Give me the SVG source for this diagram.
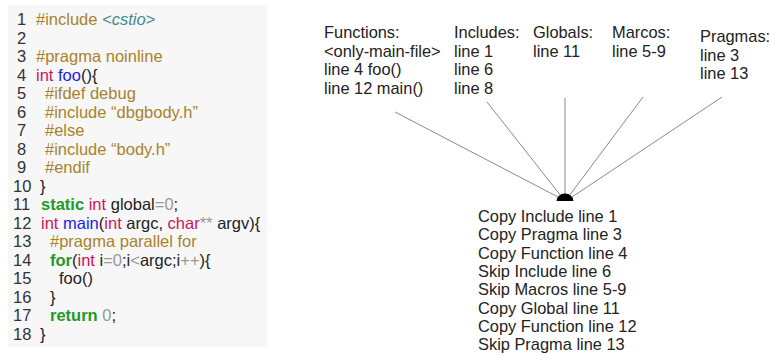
<svg xmlns="http://www.w3.org/2000/svg" width="770" height="356" viewBox="0 0 770 356">
<style>
  text { font-family: "Liberation Sans", Arial, sans-serif; }
  .code { font-size: 16.5px; fill: #222; }
  .num { fill: #333; }
  .pp { fill: #a8832c; }
  .hdr { fill: #3c8c8c; font-style: italic; }
  .kw { fill: #c8175a; }
  .fn { fill: #2020f0; }
  .ctl { fill: #1f9a2a; font-weight: bold; }
  .lit { fill: #9a9a9a; }
  .lbl { font-size: 16.4px; fill: #222; }
  .conn line { stroke: #8a8a8a; stroke-width: 1; }
</style>
<rect x="0" y="0" width="770" height="356" fill="#ffffff"/>

<g id="code">
  <rect x="8" y="5" width="259" height="342" fill="#f7f7f7"/>
  <g class="code">
    <text x="17" y="25" class="num">1</text>
    <text x="36" y="25"><tspan class="pp">#include </tspan><tspan class="hdr">&lt;cstio&gt;</tspan></text>
    <text x="17" y="43.5" class="num">2</text>
    <text x="17" y="62" class="num">3</text>
    <text x="36" y="62" class="pp">#pragma noinline</text>
    <text x="17" y="80.5" class="num">4</text>
    <text x="36" y="80.5"><tspan class="kw">int</tspan> <tspan class="fn">foo</tspan>(){</text>
    <text x="17" y="99" class="num">5</text>
    <text x="45" y="99" class="pp">#ifdef debug</text>
    <text x="17" y="117.5" class="num">6</text>
    <text x="45" y="117.5" class="pp">#include “dbgbody.h”</text>
    <text x="17" y="136" class="num">7</text>
    <text x="45" y="136" class="pp">#else</text>
    <text x="17" y="154.5" class="num">8</text>
    <text x="45" y="154.5" class="pp">#include “body.h”</text>
    <text x="17" y="173" class="num">9</text>
    <text x="45" y="173" class="pp">#endif</text>
    <text x="13" y="191.5" class="num">10</text>
    <text x="40" y="191.5">}</text>
    <text x="13" y="210" class="num">11</text>
    <text x="41" y="210"><tspan class="ctl">static</tspan> <tspan class="kw">int</tspan> global<tspan class="lit">=0</tspan>;</text>
    <text x="13" y="228.5" class="num">12</text>
    <text x="41" y="228.5"><tspan class="kw">int</tspan> <tspan class="fn">main</tspan>(<tspan class="kw">int</tspan> argc, <tspan class="kw">char</tspan><tspan class="lit">**</tspan> argv){</text>
    <text x="13" y="247" class="num">13</text>
    <text x="50" y="247" class="pp">#pragma parallel for</text>
    <text x="13" y="265.5" class="num">14</text>
    <text x="50" y="265.5"><tspan class="ctl">for</tspan>(<tspan class="kw">int</tspan> i<tspan class="lit">=0</tspan>;i<tspan class="lit">&lt;</tspan>argc;i<tspan class="lit">++</tspan>){</text>
    <text x="13" y="284" class="num">15</text>
    <text x="59" y="284">foo()</text>
    <text x="13" y="302.5" class="num">16</text>
    <text x="50" y="302.5">}</text>
    <text x="13" y="321" class="num">17</text>
    <text x="50" y="321"><tspan class="ctl">return</tspan> <tspan class="lit">0</tspan>;</text>
    <text x="13" y="339.5" class="num">18</text>
    <text x="40" y="339.5">}</text>
  </g>
</g>

<g id="functions" class="lbl">
  <text x="324" y="38">Functions:</text>
  <text x="324" y="56.5">&lt;only-main-file&gt;</text>
  <text x="324" y="75">line 4 foo()</text>
  <text x="324" y="93.5">line 12 main()</text>
</g>
<g id="includes" class="lbl">
  <text x="454" y="38">Includes:</text>
  <text x="454" y="56.5">line 1</text>
  <text x="454" y="75">line 6</text>
  <text x="454" y="93.5">line 8</text>
</g>
<g id="globals" class="lbl">
  <text x="533" y="38">Globals:</text>
  <text x="533" y="56.5">line 11</text>
</g>
<g id="marcos" class="lbl">
  <text x="612" y="38">Marcos:</text>
  <text x="612" y="56.5">line 5-9</text>
</g>
<g id="pragmas" class="lbl">
  <text x="700" y="42">Pragmas:</text>
  <text x="700" y="60.5">line 3</text>
  <text x="700" y="79">line 13</text>
</g>

<g id="connectors" class="conn">
  <line x1="395" y1="112" x2="558" y2="197"/>
  <line x1="487" y1="102" x2="561" y2="196"/>
  <line x1="565" y1="98" x2="565" y2="194"/>
  <line x1="643" y1="97" x2="569" y2="196"/>
  <line x1="722" y1="97" x2="572" y2="197"/>
</g>

<g id="hub">
  <path d="M556.5,201 A8.5,7.5 0 0 1 573.5,201 Z" fill="#000"/>
</g>

<g id="actions" class="lbl">
  <text x="478" y="222">Copy Include line 1</text>
  <text x="478" y="240.3">Copy Pragma line 3</text>
  <text x="478" y="258.6">Copy Function line 4</text>
  <text x="478" y="276.9">Skip Include line 6</text>
  <text x="478" y="295.2">Skip Macros line 5-9</text>
  <text x="478" y="313.5">Copy Global line 11</text>
  <text x="478" y="331.8">Copy Function line 12</text>
  <text x="478" y="350">Skip Pragma line 13</text>
</g>
</svg>
